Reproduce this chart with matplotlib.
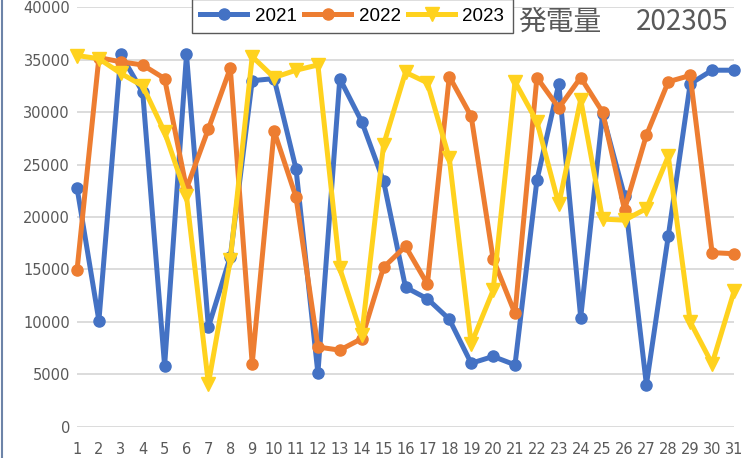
import numpy as np
import matplotlib
matplotlib.use("Agg")
import matplotlib.pyplot as plt
from matplotlib.lines import Line2D

# 日付 (1..31)
days = list(range(1, 32))

# 年別の発電量
gen_2021 = [22800, 10100, 35500, 31900, 5800, 35500, 9500, 16200, 33000, 33200,
            24600, 5100, 33200, 29100, 23400, 13300, 12200, 10250, 6050, 6700,
            5900, 23500, 32700, 10400, 29800, 22000, 4000, 18200, 32700, 34000,
            34000]
gen_2022 = [14900, 35200, 34800, 34500, 33200, 22700, 28400, 34200, 6000, 28200,
            21900, 7600, 7300, 8400, 15200, 17200, 13600, 33400, 29600, 16000,
            10800, 33300, 30400, 33300, 30000, 20700, 27800, 32900, 33500, 16600,
            16500]
gen_2023 = [35400, 35100, 33700, 32500, 28100, 22000, 4100, 15900, 35300, 33300,
            34000, 34500, 15100, 8700, 26900, 33800, 32800, 25600, 7900, 13000,
            32900, 29100, 21200, 31200, 19800, 19700, 20800, 25800, 10000, 6000,
            12900]

series_names = ['2021', '2022', '2023']
y_ticks = list(range(0, 40001, 5000))

W, H = 754, 458
fig = plt.figure(figsize=(W / 100, H / 100), dpi=100)
x0, x1 = 77, 734
y_zero, y_top = 426.7, 7.3
ax = fig.add_axes([x0 / W, (H - y_zero) / H, (x1 - x0) / W, (y_zero - y_top) / H])

blue = '#4472C4'
orange = '#ED7D31'
yellow = '#FFD21E'

ax.plot(days, gen_2021, color=blue, lw=3.6, marker='o', ms=8,
        label=series_names[0], clip_on=False)
ax.plot(days, gen_2022, color=orange, lw=3.6, marker='o', ms=8,
        label=series_names[1], clip_on=False)
ax.plot(days, gen_2023, color=yellow, lw=3.6, marker='v', ms=10,
        label=series_names[2], clip_on=False)

ax.set_xlim(1, 31)
ax.set_ylim(0, 40000)
ax.set_xticks(days)
ax.set_xticklabels([str(d) for d in days])
ax.set_yticks(y_ticks)
ax.set_yticklabels([str(v) for v in y_ticks])
ax.grid(axis='y', color='#D9D9D9', lw=1.3)
ax.set_axisbelow(True)
for s in ax.spines.values():
    s.set_visible(False)
ax.tick_params(axis='both', length=0, colors='#595959', labelsize=10.5)
ax.tick_params(axis='y', pad=5)
ax.tick_params(axis='x', pad=11)
for lab in ax.get_xticklabels() + ax.get_yticklabels():
    lab.set_family('DejaVu Sans')

leg = ax.legend(loc='upper left', bbox_to_anchor=(192 / W, 1 + 1 / H),
                bbox_transform=fig.transFigure, ncol=3, frameon=True,
                fancybox=False, edgecolor='#595959', framealpha=1,
                prop={'family': 'Liberation Sans', 'size': 13.5},
                handlelength=2.5, handletextpad=0.4, columnspacing=0.4,
                borderpad=0.45, borderaxespad=0)
leg.get_frame().set_linewidth(1.0)

# タイトル
fig.text(518 / W, 1 - 22 / H, '発電量', fontsize=20, color='#595959',
         family='Noto Sans CJK JP', ha='left', va='center')
fig.text(728 / W, 1 - 22 / H, '202305', fontsize=20, color='#595959',
         family='Noto Sans CJK JP', ha='right', va='center')

# 左端の枠線
fig.add_artist(Line2D([1.5 / W, 1.5 / W], [0, 1], color='#6D84A8', lw=1.5,
                      transform=fig.transFigure))

fig.savefig('out.png', dpi=100)
